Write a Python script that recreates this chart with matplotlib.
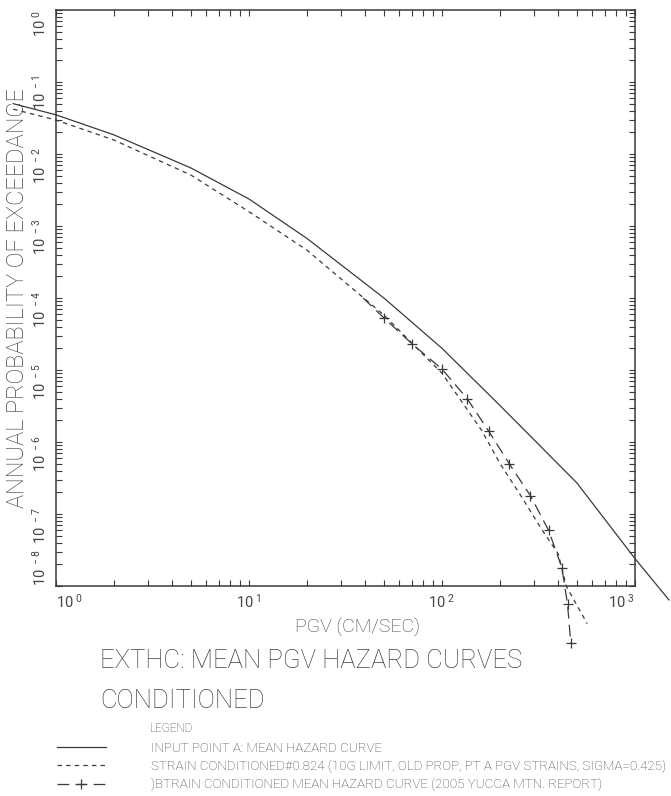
import numpy as np
import matplotlib.pyplot as plt
from matplotlib.ticker import LogLocator, NullFormatter

plt.rcParams['font.family'] = ['Roboto', 'DejaVu Sans']
plt.rcParams['lines.scale_dashes'] = False
plt.rcParams['mathtext.default'] = 'regular'

ink = '#3a3a3a'
txt = '#444444'

# input point A: mean hazard curve
pgv_mean = [0.6, 1, 2, 5, 10, 20, 50, 100, 200, 500, 1000, 1500]
prob_mean = [5.0e-2, 3.5e-2, 1.84e-2, 6.4e-3, 2.37e-3, 6.7e-4, 1.0e-4, 2.0e-5,
             3.2e-6, 2.7e-7, 2.4e-8, 6.4e-9]

# strain conditioned curve
pgv_strain = [0.6, 1, 2, 5, 10, 20, 50, 100, 160, 200, 256, 330, 400, 440, 565]
prob_strain = [4.2e-2, 2.96e-2, 1.56e-2, 5.1e-3, 1.58e-3, 4.6e-4, 5.8e-5, 9.0e-6,
               1.47e-6, 5.0e-7, 1.8e-7, 6.0e-8, 2.8e-8, 1.0e-8, 3.0e-9]

# 2005 yucca mtn. report curve
pgv_2005 = [39, 50, 70, 100, 135, 175, 223, 287, 357, 418, 447, 465]
prob_2005 = [1.0e-4, 5.3e-5, 2.3e-5, 1.03e-5, 4.0e-6, 1.4e-6, 5.0e-7, 1.8e-7,
             5.9e-8, 1.8e-8, 5.6e-9, 1.6e-9]

x_ticks = [1, 10, 100, 1000]
x_labels = [r'10$^{\ 0}$', r'10$^{\ 1}$', r'10$^{\ 2}$', r'10$^{\ 3}$']
y_ticks = [10.0 ** -k for k in range(0, 9)]
y_labels = [r'10$^{\ %s}$' % ('0' if k == 0 else '-%d' % k) for k in range(0, 9)]

legend_labels = [
    'INPUT POINT A: MEAN HAZARD CURVE',
    'STRAIN CONDITIONED#0.824 (10G LIMIT, OLD PROP, PT A PGV STRAINS, SIGMA=0.425)',
    ')BTRAIN CONDITIONED MEAN HAZARD CURVE (2005 YUCCA MTN. REPORT)',
]

fig = plt.figure(figsize=(6.71, 7.96), dpi=100)
ax = fig.add_axes([56 / 671, 1 - 586 / 796, 579 / 671, 576 / 796])

l1, = ax.plot(pgv_mean, prob_mean, color=ink, lw=0.9, clip_on=False)
l2, = ax.plot(pgv_strain, prob_strain, color=ink, lw=0.9, clip_on=False,
              linestyle=(0, (3.2, 3.0)))
l3, = ax.plot(pgv_2005, prob_2005, color=ink, lw=0.9, clip_on=False,
              linestyle=(0, (8.5, 4.5)), marker='+', ms=6.5, mew=0.9,
              markevery=list(range(1, len(pgv_2005))))

ax.set_xscale('log')
ax.set_yscale('log')
ax.set_xlim(1, 1000)
ax.set_ylim(1e-8, 1)

for s in ax.spines.values():
    s.set_color(ink)
    s.set_linewidth(1.1)

ax.xaxis.set_minor_locator(LogLocator(base=10, subs=np.arange(2, 10)))
ax.yaxis.set_minor_locator(LogLocator(base=10, subs=np.arange(2, 10), numticks=20))
ax.xaxis.set_minor_formatter(NullFormatter())
ax.yaxis.set_minor_formatter(NullFormatter())
ax.set_xticks(x_ticks)
ax.set_xticklabels(x_labels)
ax.set_yticks(y_ticks)
ax.set_yticklabels(y_labels, rotation=90)
ax.tick_params(which='both', direction='in', top=True, right=True,
               length=4, width=0.8, color=ink, labelcolor=txt, labelsize=10.5)
ax.tick_params(axis='x', pad=5)
ax.tick_params(axis='y', pad=5)

xl = ax.get_xticklabels()
xl[0].set_ha('left')
xl[-1].set_ha('right')
yl = ax.get_yticklabels()
yl[0].set_va('top')
yl[-1].set_va('bottom')

ax.set_xlabel('PGV (CM/SEC)', fontsize=14, color=txt, fontweight='light')
ax.xaxis.set_label_coords(0.52, -0.055)
ax.set_ylabel('ANNUAL PROBABILITY OF EXCEEDANCE', fontsize=17, color=txt,
              fontweight='light')
ax.yaxis.set_label_coords(-0.047, 0.5)

fig.text(100 / 671, 1 - 649 / 796, 'EXTHC: MEAN PGV HAZARD CURVES\nCONDITIONED',
         fontsize=18.5, color=txt, ha='left', va='top', linespacing=1.85,
         fontweight='light')

fig.text(150 / 671, 1 - 729 / 796, 'LEGEND', fontsize=8.5, color=txt,
         ha='left', va='center', fontweight='light')
leg = fig.legend([l1, l2, l3], legend_labels, loc='upper left',
                 bbox_to_anchor=(50 / 671, 1 - 735 / 796), frameon=False,
                 handlelength=3.7, handletextpad=3.4,
                 labelspacing=0.38, numpoints=1, borderpad=0,
                 prop={'size': 9.6, 'weight': 'light'}, labelcolor=txt)

fig.savefig('out.png', dpi=100, facecolor='white')
